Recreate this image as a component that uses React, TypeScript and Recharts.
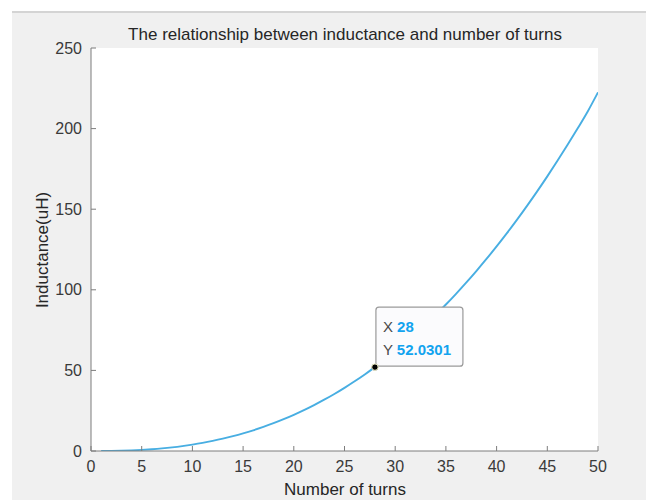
import React from 'react';
import { LineChart, Line, XAxis, YAxis, ReferenceDot } from 'recharts';

// turns (N) and inductance (uH)
const turns = [
  1, 2, 3, 4, 5, 6, 7, 8, 9, 10,
  11, 12, 13, 14, 15, 16, 17, 18, 19, 20,
  21, 22, 23, 24, 25, 26, 27, 28, 29, 30,
  31, 32, 33, 34, 35, 36, 37, 38, 39, 40,
  41, 42, 43, 44, 45, 46, 47, 48, 49, 50,
];
const inductance = [
  0.01, 0.07, 0.2, 0.4, 0.7, 1.11, 1.63, 2.27, 3.05, 3.97,
  5.03, 6.26, 7.64, 9.2, 10.93, 12.84, 14.95, 17.24, 19.74, 22.44,
  25.35, 28.47, 31.82, 35.39, 39.19, 43.23, 47.51, 52.03, 56.8, 61.83,
  67.11, 72.65, 78.46, 84.54, 90.89, 97.53, 104.44, 111.64, 119.13, 126.92,
  135.0, 143.38, 152.08, 161.07, 170.37, 180.0, 189.93, 200.19, 210.79, 222.5,
];

const xTicks = [0, 5, 10, 15, 20, 25, 30, 35, 40, 45, 50];
const yTicks = [0, 50, 100, 150, 200, 250];

const tipX = 28;
const tipY = 52.0301;

const data = turns.map((n, i) => ({ n, L: inductance[i] }));

const FONT = '"Liberation Sans", Arial, sans-serif';
const TEXT = '#3a3a3a';
const AXIS = '#7d7d7d';
const TICK_LEN = 5;

const BottomTick = (props: any) => {
  const { x, y, payload } = props;
  return (
    <g>
      <line x1={x} y1={y - 10} x2={x} y2={y - 10 - TICK_LEN} stroke={AXIS} />
      <text x={x} y={y} dy="0.71em" textAnchor="middle" fill={TEXT} fontSize={16} fontFamily={FONT}>
        {payload.value}
      </text>
    </g>
  );
};

const TopTick = (props: any) => {
  const { x, y } = props;
  return <line x1={x} y1={y} x2={x} y2={y + TICK_LEN} stroke={AXIS} />;
};

const LeftTick = (props: any) => {
  const { x, y, payload } = props;
  return (
    <g>
      <line x1={x + 9} y1={y} x2={x + 9 + TICK_LEN} y2={y} stroke={AXIS} />
      <text x={x} y={y} dy="0.355em" textAnchor="end" fill={TEXT} fontSize={16} fontFamily={FONT}>
        {payload.value}
      </text>
    </g>
  );
};

const RightTick = (props: any) => {
  const { x, y } = props;
  return <line x1={x} y1={y} x2={x - TICK_LEN} y2={y} stroke={AXIS} />;
};

const DataTip = (props: any) => {
  const { cx, cy } = props;
  return (
    <g>
      <rect x={cx + 1} y={cy - 60} width={87} height={59} rx={3} fill="#fbfbfd" stroke="#9a9a9a" strokeWidth={1.2} />
      <text x={cx + 8} y={cy - 35} fontSize={15} fontFamily={FONT}>
        <tspan fill="#4a4a4a">X </tspan>
        <tspan fill="#12a3ef" fontWeight="bold">{tipX}</tspan>
      </text>
      <text x={cx + 8} y={cy - 12} fontSize={15} fontFamily={FONT}>
        <tspan fill="#4a4a4a">Y </tspan>
        <tspan fill="#12a3ef" fontWeight="bold">{tipY}</tspan>
      </text>
      <circle cx={cx} cy={cy} r={3.2} fill="#000" stroke="#e8e8c0" strokeWidth={1} />
    </g>
  );
};

export default function App() {
  return (
    <div style={{ position: 'absolute', left: 0, top: 0, width: 646, height: 500, background: '#ffffff', overflow: 'hidden' }}>
      <div
        style={{
          position: 'absolute', left: 12, top: 11, right: 0, bottom: 0,
          background: '#f0f0f0', borderTop: '2px solid #d4d4d4',
        }}
      />
      <div
        style={{
          position: 'absolute', left: 0, width: 646, top: 25, textAlign: 'center',
          paddingLeft: 44, boxSizing: 'border-box',
          fontFamily: FONT, fontSize: 17, color: '#262626',
        }}
      >
        The relationship between inductance and number of turns
      </div>
      <div
        style={{
          position: 'absolute', left: 0, width: 646, top: 480, textAlign: 'center',
          paddingLeft: 44, boxSizing: 'border-box',
          fontFamily: FONT, fontSize: 17, color: '#262626',
        }}
      >
        Number of turns
      </div>
      <div
        style={{
          position: 'absolute', left: 43, top: 250, transform: 'translate(-50%, -50%) rotate(-90deg)',
          whiteSpace: 'nowrap', fontFamily: FONT, fontSize: 17, color: '#262626',
        }}
      >
        Inductance(uH)
      </div>
      <div style={{ position: 'absolute', left: 0, top: 0 }}>
        <LineChart width={646} height={500} data={data} margin={{ top: 48, right: 48, bottom: 19, left: 51 }}>
          <rect x={91} y={48} width={507} height={403} fill="#fff" />
          <XAxis
            xAxisId="bottom"
            dataKey="n"
            type="number"
            domain={[0, 50]}
            ticks={xTicks}
            allowDataOverflow
            height={30}
            tickSize={0}
            tickMargin={10}
            tickLine={false}
            tick={<BottomTick />}
            axisLine={{ stroke: AXIS }}
            interval={0}
          />
          <XAxis
            xAxisId="top"
            orientation="top"
            dataKey="n"
            type="number"
            domain={[0, 50]}
            ticks={xTicks}
            allowDataOverflow
            height={0}
            tickSize={0}
            tickMargin={0}
            tickLine={false}
            tick={<TopTick />}
            axisLine={{ stroke: AXIS }}
            interval={0}
          />
          <YAxis
            yAxisId="left"
            type="number"
            domain={[0, 250]}
            ticks={yTicks}
            allowDataOverflow
            width={40}
            tickSize={0}
            tickMargin={9}
            tickLine={false}
            tick={<LeftTick />}
            axisLine={{ stroke: AXIS }}
            interval={0}
          />
          <YAxis
            yAxisId="right"
            orientation="right"
            type="number"
            domain={[0, 250]}
            ticks={yTicks}
            allowDataOverflow
            width={0}
            tickSize={0}
            tickMargin={0}
            tickLine={false}
            tick={<RightTick />}
            axisLine={{ stroke: AXIS }}
            interval={0}
          />
          <Line
            xAxisId="bottom"
            yAxisId="left"
            type="monotone"
            dataKey="L"
            stroke="#48aee2"
            strokeWidth={1.9}
            dot={false}
            isAnimationActive={false}
          />
          <ReferenceDot xAxisId="bottom" yAxisId="left" x={tipX} y={tipY} r={3} shape={<DataTip />} />
        </LineChart>
      </div>
    </div>
  );
}
